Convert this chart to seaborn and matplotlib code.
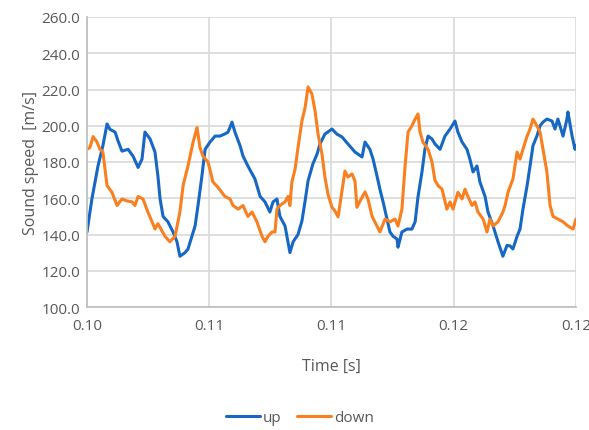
import numpy as np
import pandas as pd
import matplotlib
matplotlib.use("Agg")
import matplotlib.pyplot as plt
import seaborn as sns

# ---- data ----
up_time = [0.10000, 0.10020, 0.10045, 0.10065, 0.10082, 0.10094, 0.10115, 0.10127,
           0.10143, 0.10168, 0.10188, 0.10209, 0.10225, 0.10237, 0.10258, 0.10278,
           0.10290, 0.10299, 0.10311, 0.10331, 0.10352, 0.10368, 0.10380, 0.10401,
           0.10413, 0.10429, 0.10442, 0.10454, 0.10470, 0.10483, 0.10503, 0.10524,
           0.10544, 0.10564, 0.10577, 0.10593, 0.10605, 0.10626, 0.10638, 0.10658,
           0.10687, 0.10708, 0.10728, 0.10748, 0.10761, 0.10777, 0.10789, 0.10810,
           0.10830, 0.10843, 0.10863, 0.10879, 0.10892, 0.10904, 0.10924, 0.10941,
           0.10953, 0.10973, 0.11002, 0.11022, 0.11043, 0.11067, 0.11096, 0.11125,
           0.11137, 0.11157, 0.11170, 0.11186, 0.11198, 0.11211, 0.11227, 0.11239,
           0.11252, 0.11268, 0.11272, 0.11288, 0.11309, 0.11329, 0.11342, 0.11354,
           0.11370, 0.11382, 0.11395, 0.11411, 0.11423, 0.11444, 0.11464, 0.11485,
           0.11505, 0.11517, 0.11534, 0.11554, 0.11566, 0.11579, 0.11595, 0.11607,
           0.11628, 0.11640, 0.11661, 0.11681, 0.11701, 0.11718, 0.11730, 0.11742,
           0.11759, 0.11771, 0.11783, 0.11800, 0.11812, 0.11824, 0.11840, 0.11853,
           0.11865, 0.11881, 0.11902, 0.11914, 0.11926, 0.11947, 0.11963, 0.11967,
           0.11984, 0.11996, 0.12000]
up_speed = [141.4, 159.6, 177.8, 189.0, 201.0, 198.0, 196.5, 191.6,
            186.0, 187.0, 183.3, 177.0, 181.6, 196.5, 192.7, 185.5,
            172.3, 159.6, 150.0, 147.0, 141.4, 136.0, 128.0, 130.0,
            132.0, 139.0, 144.7, 156.0, 172.3, 187.0, 191.0, 194.3,
            194.3, 195.5, 196.5, 202.0, 196.5, 189.0, 183.3, 177.8,
            170.6, 161.0, 158.0, 152.4, 158.0, 159.6, 150.0, 144.7,
            130.0, 136.0, 140.0, 147.4, 158.5, 169.5, 179.0, 184.4,
            190.0, 195.4, 198.2, 195.4, 193.8, 190.0, 185.5, 182.8,
            191.0, 187.0, 181.6, 172.3, 165.0, 158.0, 148.5, 141.4,
            139.0, 137.5, 133.0, 141.4, 143.0, 143.0, 147.0, 161.0,
            174.5, 187.0, 194.3, 192.7, 190.0, 187.0, 194.3, 198.2,
            202.6, 196.5, 191.0, 187.0, 181.6, 174.5, 177.8, 169.0,
            161.0, 152.4, 144.7, 136.0, 128.0, 134.0, 133.7, 132.0,
            139.0, 143.0, 154.0, 167.0, 177.8, 189.0, 194.3, 200.0,
            202.0, 203.7, 202.6, 198.2, 203.7, 194.3, 203.7, 207.6,
            194.3, 187.0, 189.0]

down_time = [0.10000, 0.10012, 0.10025, 0.10041, 0.10053, 0.10065, 0.10082, 0.10102,
             0.10123, 0.10143, 0.10164, 0.10184, 0.10196, 0.10209, 0.10229, 0.10249,
             0.10266, 0.10278, 0.10290, 0.10319, 0.10339, 0.10360, 0.10380, 0.10393,
             0.10413, 0.10434, 0.10450, 0.10462, 0.10474, 0.10495, 0.10515, 0.10536,
             0.10564, 0.10585, 0.10597, 0.10618, 0.10638, 0.10658, 0.10675, 0.10695,
             0.10716, 0.10728, 0.10740, 0.10757, 0.10769, 0.10777, 0.10789, 0.10810,
             0.10822, 0.10830, 0.10838, 0.10851, 0.10863, 0.10879, 0.10892, 0.10904,
             0.10920, 0.10933, 0.10945, 0.10961, 0.10973, 0.10986, 0.11002, 0.11014,
             0.11027, 0.11043, 0.11055, 0.11067, 0.11084, 0.11096, 0.11104, 0.11117,
             0.11137, 0.11149, 0.11166, 0.11186, 0.11198, 0.11219, 0.11239, 0.11260,
             0.11272, 0.11288, 0.11301, 0.11313, 0.11329, 0.11342, 0.11354, 0.11362,
             0.11374, 0.11395, 0.11411, 0.11423, 0.11436, 0.11452, 0.11472, 0.11485,
             0.11497, 0.11517, 0.11534, 0.11546, 0.11558, 0.11575, 0.11587, 0.11599,
             0.11620, 0.11636, 0.11648, 0.11661, 0.11681, 0.11701, 0.11710, 0.11722,
             0.11742, 0.11759, 0.11771, 0.11783, 0.11800, 0.11812, 0.11824, 0.11840,
             0.11853, 0.11865, 0.11881, 0.11894, 0.11906, 0.11926, 0.11947, 0.11967,
             0.11988, 0.12000]
down_speed = [187.0, 188.0, 194.0, 191.0, 187.0, 185.5, 167.0, 163.3,
              156.0, 159.6, 158.5, 158.0, 156.0, 161.0, 159.6, 152.4,
              147.0, 143.0, 146.0, 139.0, 136.0, 139.0, 152.4, 167.0,
              177.8, 191.0, 199.0, 188.0, 183.3, 180.0, 169.0, 166.0,
              161.0, 159.6, 156.0, 154.0, 156.0, 150.0, 152.4, 147.0,
              139.0, 136.0, 139.0, 141.4, 141.4, 154.0, 156.0, 158.0,
              161.0, 156.0, 169.0, 176.0, 188.0, 202.6, 210.0, 221.4,
              217.5, 208.0, 195.4, 184.4, 171.7, 162.0, 155.0, 153.0,
              149.7, 164.0, 175.0, 171.7, 173.4, 169.5, 155.0, 158.5,
              163.5, 159.6, 150.0, 144.7, 141.4, 148.5, 147.0, 148.5,
              144.7, 154.0, 177.8, 196.5, 200.0, 203.7, 206.5, 196.5,
              191.0, 187.0, 180.0, 170.0, 167.0, 165.0, 154.0, 158.0,
              154.0, 163.3, 159.6, 165.0, 161.0, 156.0, 158.0, 152.4,
              148.5, 141.4, 148.5, 144.7, 147.0, 152.4, 156.0, 163.3,
              170.6, 185.5, 181.6, 187.0, 194.3, 198.2, 203.7, 200.0,
              196.5, 187.0, 174.5, 156.0, 150.0, 148.5, 147.0, 144.7,
              143.0, 148.5]

series_names = ["up", "down"]
x_ticks = [0.100, 0.105, 0.110, 0.115, 0.120]
x_tick_labels = ["0.10", "0.11", "0.11", "0.12", "0.12"]
y_ticks = [100, 120, 140, 160, 180, 200, 220, 240, 260]

df = pd.concat([
    pd.DataFrame({"Time [s]": up_time, "speed": up_speed, "series": series_names[0]}),
    pd.DataFrame({"Time [s]": down_time, "speed": down_speed, "series": series_names[1]}),
], ignore_index=True)

sns.set_theme(style="white")
plt.rcParams["font.family"] = ["Open Sans", "DejaVu Sans"]

fig = plt.figure(figsize=(5.89, 4.31), dpi=100)
ax = fig.add_axes([87/589, 1 - 308/431, (576 - 87)/589, (308 - 18)/431])

palette = {"up": "#1767c4", "down": "#fa7f1e"}
sns.lineplot(data=df, x="Time [s]", y="speed", hue="series", palette=palette,
             sort=False, estimator=None, linewidth=2.2, ax=ax, legend=True)

ax.set_xlim(0.100, 0.120)
ax.set_ylim(100, 260)
ax.set_xticks(x_ticks)
ax.set_xticklabels(x_tick_labels)
ax.set_yticks(y_ticks)
ax.set_yticklabels([f"{v:.1f}" for v in y_ticks])
ax.grid(True, color="#d9d9d9", linewidth=1.2)
ax.set_axisbelow(True)
for s in ax.spines.values():
    s.set_visible(False)
ax.spines["left"].set_visible(True)
ax.spines["bottom"].set_visible(True)
ax.spines["left"].set_color("#bfbfbf")
ax.spines["bottom"].set_color("#bfbfbf")
ax.tick_params(axis="y", length=0, labelsize=11, colors="#595959", pad=5)
ax.tick_params(axis="x", length=0, labelsize=11, colors="#595959", pad=8)
ax.set_xlabel("Time [s]", fontsize=11.5, color="#595959", labelpad=18)
ax.set_ylabel("Sound speed  [m/s]", fontsize=11.5, color="#595959", labelpad=2)

handles, labels = ax.get_legend_handles_labels()
ax.legend(handles, labels, loc="center", bbox_to_anchor=(300/589, 1 - 419/431),
          bbox_transform=fig.transFigure, ncol=2, frameon=False, fontsize=11,
          handlelength=2.2, handletextpad=0.2, columnspacing=1.0, labelcolor="#595959")

fig.savefig("out.png", dpi=100)
